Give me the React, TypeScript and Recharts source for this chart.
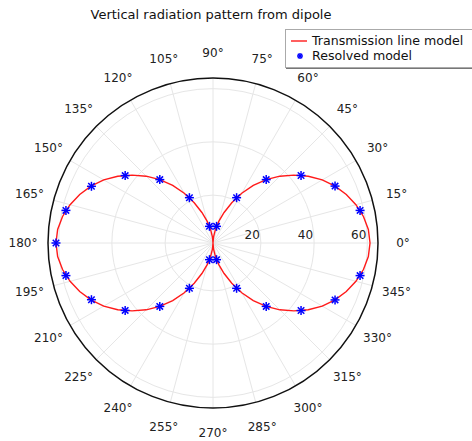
import { RadarChart, Radar, PolarGrid, PolarAngleAxis, PolarRadiusAxis, Legend } from "recharts"

const title = "Vertical radiation pattern from dipole"
const seriesNames = ["Transmission line model", "Resolved model"]

// transmission line model, sampled every 5 degrees
const lineAngles = [
  0, 5, 10, 15, 20, 25, 30, 35, 40, 45, 50, 55, 60, 65, 70, 75, 80, 85,
  90, 95, 100, 105, 110, 115, 120, 125, 130, 135, 140, 145, 150, 155, 160, 165, 170, 175,
  180, 185, 190, 195, 200, 205, 210, 215, 220, 225, 230, 235, 240, 245, 250, 255, 260, 265,
  270, 275, 280, 285, 290, 295, 300, 305, 310, 315, 320, 325, 330, 335, 340, 345, 350, 355,
]
const lineValues = [
  61.0, 60.6, 59.4, 57.6, 55.3, 52.6, 49.4, 45.7, 41.7, 37.5, 33.1, 28.4, 23.6, 18.7, 14.2, 10.4, 7.0, 4.2,
  2.0, 4.2, 7.0, 10.4, 14.2, 18.7, 23.6, 28.4, 33.1, 37.5, 41.7, 45.7, 49.4, 52.6, 55.3, 57.6, 59.4, 60.6,
  61.0, 60.6, 59.4, 57.6, 55.3, 52.6, 49.4, 45.7, 41.7, 37.5, 33.1, 28.4, 23.6, 18.7, 14.2, 10.4, 7.0, 4.2,
  2.0, 4.2, 7.0, 10.4, 14.2, 18.7, 23.6, 28.4, 33.1, 37.5, 41.7, 45.7, 49.4, 52.6, 55.3, 57.6, 59.4, 60.6,
]

// resolved model markers
const markerAngles = [
  12.5, 25, 37.5, 50, 62.5, 78, 102, 117.5, 130, 142.5, 155, 167.5, 180,
  192.5, 205, 217.5, 230, 242.5, 258, 282, 297.5, 310, 322.5, 335, 347.5,
]
const markerValues = [
  58.6, 52.6, 43.7, 33.1, 21.2, 8.4, 8.4, 21.2, 33.1, 43.6, 52.4, 58.6, 61.0,
  58.6, 52.4, 43.6, 33.1, 21.2, 8.4, 8.4, 21.2, 33.1, 43.7, 52.6, 58.6,
]

const angleTicks = [0, 15, 30, 45, 60, 75, 90, 105, 120, 135, 150, 165, 180, 195, 210, 225, 240, 255, 270, 285, 300, 315, 330, 345]
const radiusTicks = [20, 40, 60]

const font = "DejaVu Sans, sans-serif"

// merged table for the chart, sorted by angle
const allAngles = Array.from(new Set([...lineAngles, ...markerAngles])).sort((a, b) => a - b)
const data = allAngles.map((a) => {
  const li = lineAngles.indexOf(a)
  const mi = markerAngles.indexOf(a)
  return {
    angle: a,
    model: li >= 0 ? lineValues[li] : undefined,
    resolved: mi >= 0 ? markerValues[mi] : undefined,
  }
})

function LineShape(props: any) {
  const pts = (props.points || []).filter((p: any) => p.payload.model != null && Number.isFinite(p.x))
  const d = pts.map((p: any, i: number) => `${i ? "L" : "M"}${p.x},${p.y}`).join("") + "Z"
  return <path d={d} fill="none" stroke="#ff1a1a" strokeWidth={1.4} />
}

function Asterisk({ x, y, r = 4.5 }: { x: number; y: number; r?: number }) {
  const k = r * 0.72
  return (
    <g stroke="#0000ff" strokeWidth={1.5}>
      <line x1={x} y1={y - r} x2={x} y2={y + r} />
      <line x1={x - r} y1={y} x2={x + r} y2={y} />
      <line x1={x - k} y1={y - k} x2={x + k} y2={y + k} />
      <line x1={x - k} y1={y + k} x2={x + k} y2={y - k} />
    </g>
  )
}

function MarkerShape(props: any) {
  const pts = (props.points || []).filter((p: any) => p.payload.resolved != null && Number.isFinite(p.x))
  return (
    <g>
      {pts.map((p: any, i: number) => (
        <Asterisk key={i} x={p.x} y={p.y} />
      ))}
    </g>
  )
}

function AngleTick({ x, y, payload }: any) {
  return (
    <text x={x} y={y} textAnchor="middle" dominantBaseline="central" fontSize={12} fontFamily={font} fill="#222">
      {payload.value}°
    </text>
  )
}

function RadiusTick({ x, y, payload }: any) {
  return (
    <text x={x - 1} y={y - 4} textAnchor="end" fontSize={12} fontFamily={font} fill="#222">
      {payload.value}
    </text>
  )
}

function LegendBox() {
  return (
    <div
      style={{
        background: "#fff",
        border: "1px solid #aaa",
        boxShadow: "1px 1px 0 #777",
        fontFamily: font,
        fontSize: 12.6,
        color: "#111",
        padding: "3px 0 4px 4px",
        lineHeight: "15px",
        width: 200,
      }}
    >
      <div style={{ display: "flex", alignItems: "center" }}>
        <svg width={22} height={15}>
          <line x1={1} y1={8} x2={17} y2={8} stroke="#ff1a1a" strokeWidth={1.4} />
        </svg>
        <span>{seriesNames[0]}</span>
      </div>
      <div style={{ display: "flex", alignItems: "center" }}>
        <svg width={22} height={15}>
          <Asterisk x={10} y={8} r={3} />
        </svg>
        <span>{seriesNames[1]}</span>
      </div>
    </div>
  )
}

export default function App() {
  return (
    <div style={{ position: "absolute", left: 0, top: 0, width: 472, height: 441, overflow: "hidden", background: "#fff" }}>
      <div
        style={{
          position: "absolute",
          left: 0,
          top: 7,
          width: 422,
          textAlign: "center",
          fontFamily: font,
          fontSize: 13,
          color: "#111",
          lineHeight: "16px",
        }}
      >
        {title}
      </div>
      <RadarChart width={472} height={441} data={data} cx={213} cy={243} outerRadius={165} startAngle={0} endAngle={360}>
        <PolarGrid gridType="circle" stroke="#e6e6e6" />
        <PolarAngleAxis
          dataKey="angle"
          type="number"
          domain={[0, 360]}
          ticks={angleTicks}
          tickSize={25}
          tickLine={false}
          axisLineType="circle"
          axisLine={{ stroke: "#111", strokeWidth: 1.5 }}
          tick={AngleTick}
        />
        <PolarRadiusAxis
          angle={0}
          type="number"
          domain={[2, 64]}
          ticks={radiusTicks}
          axisLine={false}
          tickLine={false}
          tick={RadiusTick}
        />
        <Radar dataKey="model" name={seriesNames[0]} shape={LineShape} dot={false} isAnimationActive={false} />
        <Radar dataKey="resolved" name={seriesNames[1]} shape={MarkerShape} dot={false} isAnimationActive={false} />
        <Legend content={LegendBox} wrapperStyle={{ top: 29, left: 285, width: 200 }} />
      </RadarChart>
    </div>
  )
}
